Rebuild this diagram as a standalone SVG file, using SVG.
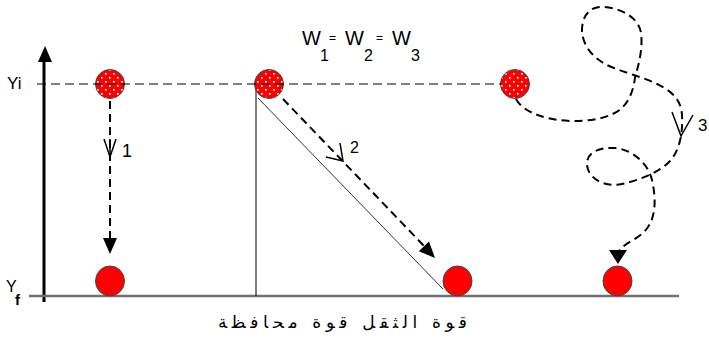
<svg xmlns="http://www.w3.org/2000/svg" width="709" height="341" viewBox="0 0 709 341">
<style>
  .lbl { font-family: "Liberation Sans", Arial, sans-serif; fill: #000; }
  .path { fill: none; stroke: #000; stroke-width: 2; stroke-dasharray: 8 5; }
  .chev { fill: none; stroke: #000; stroke-width: 1.5; }
  .head { fill: #000; }
  .ballS { fill: url(#dots); stroke: #444; stroke-width: 1; }
  .ballR { fill: #ff0000; stroke: #444; stroke-width: 1; }
</style>
<defs>
  <pattern id="dots" patternUnits="userSpaceOnUse" width="8" height="8">
    <rect width="8" height="8" fill="#ff0000"/>
    <rect x="1" y="1" width="1.7" height="1.7" fill="#fff"/>
    <rect x="5" y="5" width="1.7" height="1.7" fill="#fff"/>
  </pattern>
</defs>
<rect width="709" height="341" fill="#fff"/>

<g id="axes">
  <line x1="44" y1="58" x2="44" y2="302" stroke="#000" stroke-width="3"/>
  <polygon points="45,46 38,62 52,62" fill="#000"/>
  <line x1="29" y1="296" x2="679" y2="296" stroke="#707070" stroke-width="2.5"/>
  <line x1="256" y1="84" x2="256" y2="296" stroke="#000" stroke-width="1"/>
  <line x1="258" y1="98" x2="443" y2="289" stroke="#333" stroke-width="1"/>
  <text class="lbl" x="7" y="89" font-size="17">Yi</text>
  <text class="lbl" x="6" y="292" font-size="16">Y</text>
  <text class="lbl" x="15" y="305" font-size="15" font-weight="bold">f</text>
</g>

<g id="ball-top-1"><circle class="ballS" cx="110" cy="84" r="14.5"/></g>
<g id="ball-top-2"><circle class="ballS" cx="269" cy="84" r="14.5"/></g>
<g id="ball-top-3"><circle class="ballS" cx="515" cy="84" r="14.5"/></g>
<g id="ball-bottom-1"><ellipse class="ballR" cx="110" cy="281" rx="14.5" ry="15"/></g>
<g id="ball-bottom-2"><ellipse class="ballR" cx="457.5" cy="281" rx="14.5" ry="15"/></g>
<g id="ball-bottom-3"><ellipse class="ballR" cx="617.5" cy="281" rx="14.5" ry="15"/></g>

<g id="connectors">
  <line x1="37" y1="84" x2="501" y2="84" stroke="#000" stroke-width="1" stroke-dasharray="9 5"/>
  <!-- path 1 -->
  <line class="path" x1="110" y1="101" x2="110" y2="240"/>
  <polygon class="head" points="103,238 117,238 110,254"/>
  <polyline class="chev" points="104,139 110,157 116,139"/>
  <line x1="110" y1="139" x2="110" y2="157" stroke="#000" stroke-width="1.5"/>
  <!-- path 2 -->
  <line class="path" x1="283" y1="99" x2="426" y2="248"/>
  <polygon class="head" points="435,258 418.8,251.2 429,241.6"/>
  <polyline class="chev" points="340,143 343,161 326,157"/>
  <!-- path 3 -->
  <path class="path" d="M516,99 C530,125 600,128 622,108 C630,100 634,88 635,77 C639,64 643,48 641,33 C639,18 622,8 603,7 C590,6 582,16 582,30 C582,44 592,57 605,64 C618,71 640,76 655,83 C670,90 681,98 682,115 C683,132 680,150 670,161 C660,172 640,180 622,184 C604,188 588,178 587,165 C586,152 600,147 615,148 C630,149 648,162 652,180 C656,198 656,215 648,227 C640,239 625,242 619,251"/>
  <polygon class="head" points="609,250 627,250 618,264"/>
  <polyline class="chev" points="672,112 681,136 693,115"/>
</g>

<g id="labels">
  <text class="lbl" x="122" y="157" font-size="18">1</text>
  <text class="lbl" x="350" y="153" font-size="16">2</text>
  <text class="lbl" x="698" y="131" font-size="17">3</text>
  <text class="lbl" x="302" y="45" font-size="20">W</text>
  <text class="lbl" x="320" y="61" font-size="16">1</text>
  <text class="lbl" x="329" y="42" font-size="12">=</text>
  <text class="lbl" x="345" y="45" font-size="20">W</text>
  <text class="lbl" x="364" y="61" font-size="16">2</text>
  <text class="lbl" x="376" y="42" font-size="12">=</text>
  <text class="lbl" x="392" y="45" font-size="20">W</text>
  <text class="lbl" x="411" y="61" font-size="16">3</text>
  <text x="342.5" y="328" font-family="'DejaVu Sans', sans-serif" font-size="17" text-anchor="middle" textLength="249" lengthAdjust="spacing">قوة الثقل قوة محافظة</text>
</g>
</svg>
